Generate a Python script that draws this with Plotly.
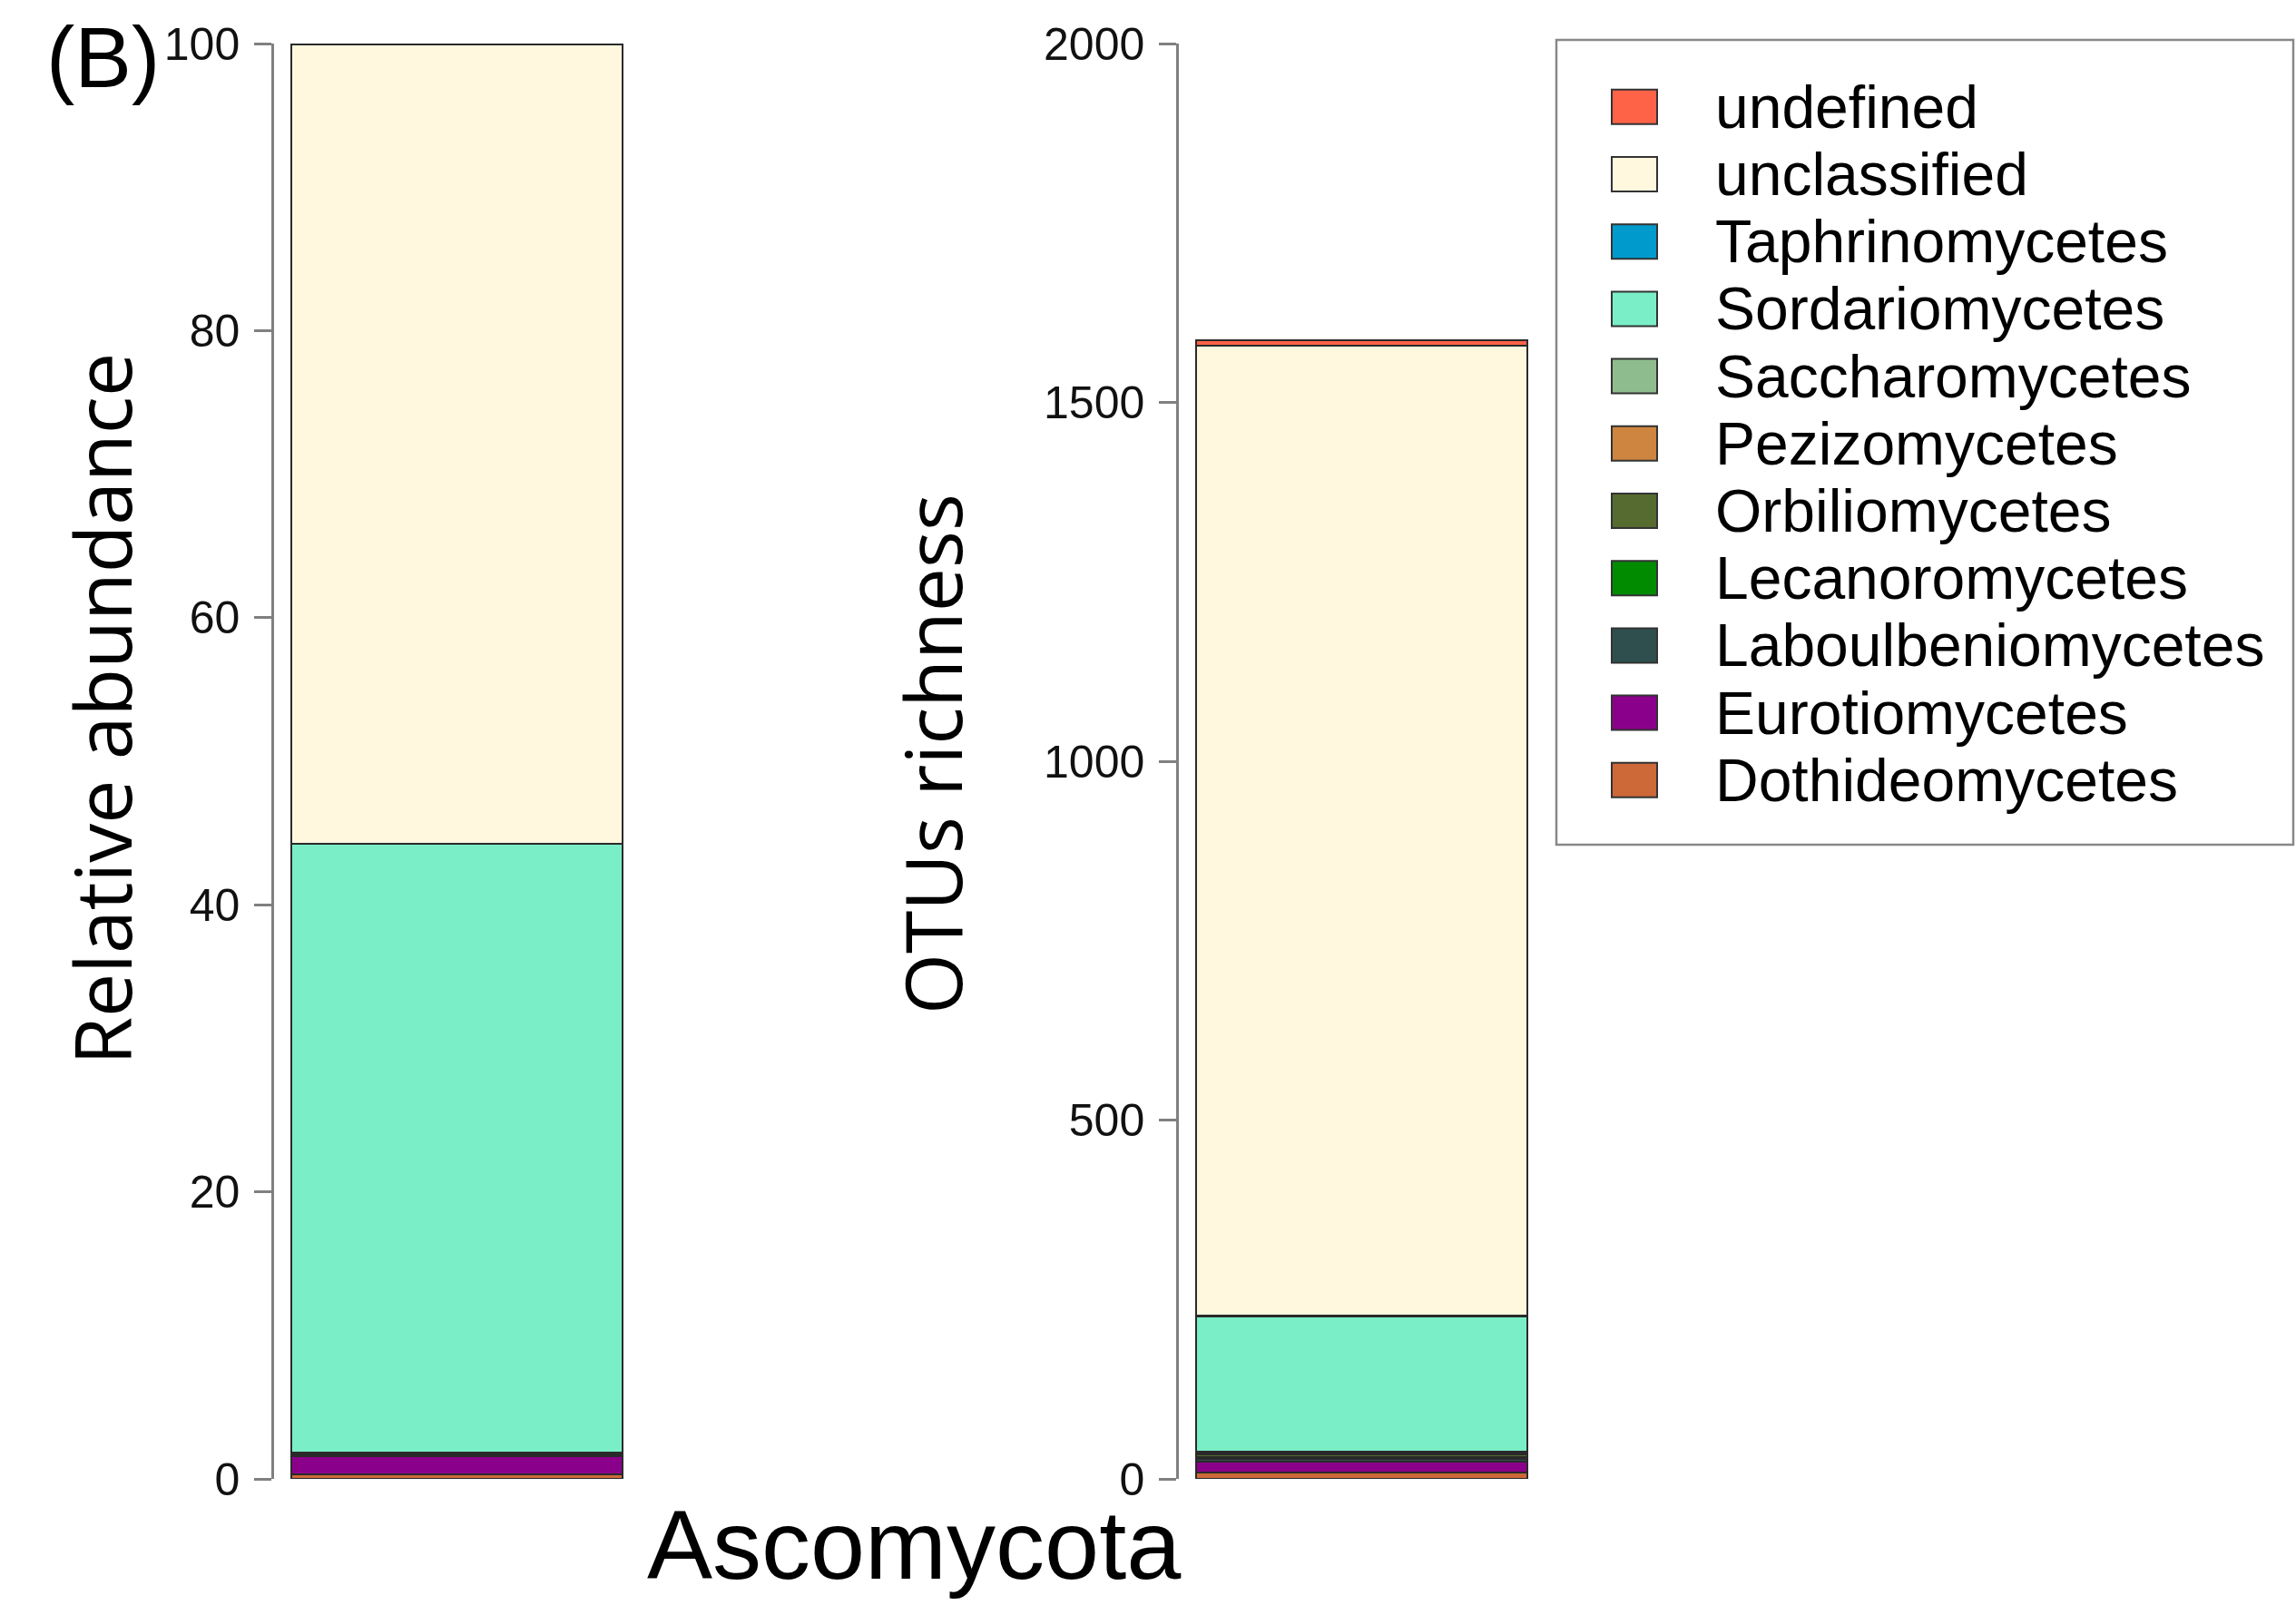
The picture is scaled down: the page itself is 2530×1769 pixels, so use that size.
import plotly.graph_objects as go

W, H = 2530, 1769

# ---- data ----
classes = ["Dothideomycetes", "Eurotiomycetes", "Laboulbeniomycetes", "Lecanoromycetes",
           "Orbiliomycetes", "Pezizomycetes", "Saccharomycetes", "Sordariomycetes",
           "Taphrinomycetes", "unclassified", "undefined"]
colors = ["#CD6839", "#8B008B", "#2F4F4F", "#008B00", "#556B2F", "#CD853F",
          "#8FBC8F", "#7AEFC7", "#009ACD", "#FFF8DF", "#FF6347"]
rel_abundance = [0.30, 1.25, 0.15, 0.02, 0.02, 0.05, 0.02, 42.44, 0.01, 55.69, 0.05]
otu_richness = [9, 15, 4, 2, 4, 3, 1, 188, 1, 1352, 8]
phylum = "Ascomycota"
ticks_left = [0, 20, 40, 60, 80, 100]
ticks_right = [0, 500, 1000, 1500, 2000]

fig = go.Figure()
for name, col, a, r in zip(classes, colors, rel_abundance, otu_richness):
    fig.add_trace(go.Bar(x=[0], y=[a], name=name, marker=dict(color=col, line=dict(color="#2a2a2a", width=2)),
                         width=1, xaxis="x", yaxis="y", showlegend=False))
    fig.add_trace(go.Bar(x=[0], y=[r], name=name, marker=dict(color=col, line=dict(color="#2a2a2a", width=2)),
                         width=1, xaxis="x2", yaxis="y2", showlegend=False))

def px(x):
    return x / W

def py(y):
    return 1 - y / H

ydom = [py(1630), py(48)]
pad = 0.052
tickfont = dict(family="Liberation Sans Narrow, Liberation Sans, Arial", size=50, color="#111")
yax_common = dict(showline=True, linecolor="#808080", linewidth=2.5, ticks="outside", ticklen=19,
                  tickwidth=2.5, tickcolor="#808080", showgrid=False, zeroline=False, automargin=False,
                  tickfont=tickfont, ticklabelstandoff=6, domain=ydom)
xax_common = dict(showline=False, showticklabels=False, ticks="", showgrid=False, zeroline=False,
                  automargin=False, range=[-0.5 - pad, 0.5 + pad])

fig.update_layout(
    width=W, height=H, autosize=False, barmode="stack", plot_bgcolor="white", paper_bgcolor="white",
    margin=dict(l=0, r=0, t=0, b=0, pad=0, autoexpand=False), bargap=0, showlegend=False,
    xaxis=dict(domain=[px(302), px(705)], anchor="y", **xax_common),
    xaxis2=dict(domain=[px(1299), px(1702)], anchor="y2", **xax_common),
    yaxis=dict(range=[0, 100], tickvals=ticks_left, anchor="x", **yax_common),
    yaxis2=dict(range=[0, 2000], tickvals=ticks_right, anchor="x2", **yax_common),
)

ann = []
ann.append(dict(text="(B)", x=px(113), y=py(63), xref="paper", yref="paper", showarrow=False,
                xanchor="center", yanchor="middle", font=dict(family="Liberation Sans, Arial", size=94, color="black")))
ann.append(dict(text="Relative abundance", x=px(112), y=py(782), xref="paper", yref="paper", showarrow=False,
                textangle=-90, xanchor="center", yanchor="middle",
                font=dict(family="Open Sans, Noto Sans", size=86, color="black")))
ann.append(dict(text="OTUs richness", x=px(1026), y=py(831), xref="paper", yref="paper", showarrow=False,
                textangle=-90, xanchor="center", yanchor="middle",
                font=dict(family="Open Sans, Noto Sans", size=86, color="black")))
ann.append(dict(text=phylum, x=px(1008), y=py(1702), xref="paper", yref="paper", showarrow=False,
                xanchor="center", yanchor="middle", font=dict(family="Liberation Sans, Arial", size=108, color="black")))

# legend (manual, top entry = last class)
shapes = [dict(type="rect", xref="paper", yref="paper", x0=px(1715), x1=px(2527), y0=py(931), y1=py(44),
               line=dict(color="#888888", width=2.5), fillcolor="rgba(0,0,0,0)")]
row0, pitch = 117.8, 74.2
for i, (name, col) in enumerate(zip(classes[::-1], colors[::-1])):
    yc = row0 + i * pitch
    shapes.append(dict(type="rect", xref="paper", yref="paper", x0=px(1776), x1=px(1826),
                       y0=py(yc + 19), y1=py(yc - 19), fillcolor=col, line=dict(color="#333333", width=2)))
    ann.append(dict(text=name, x=px(1888), y=py(yc), xref="paper", yref="paper", showarrow=False,
                    xanchor="left", yanchor="middle",
                    font=dict(family="Liberation Sans, Arial", size=66, color="black")))

fig.update_layout(annotations=ann, shapes=shapes)
fig.write_html("out.html", config={"responsive": False, "displayModeBar": False},
               post_script="document.body.style.margin='0';document.body.style.padding='0';")
